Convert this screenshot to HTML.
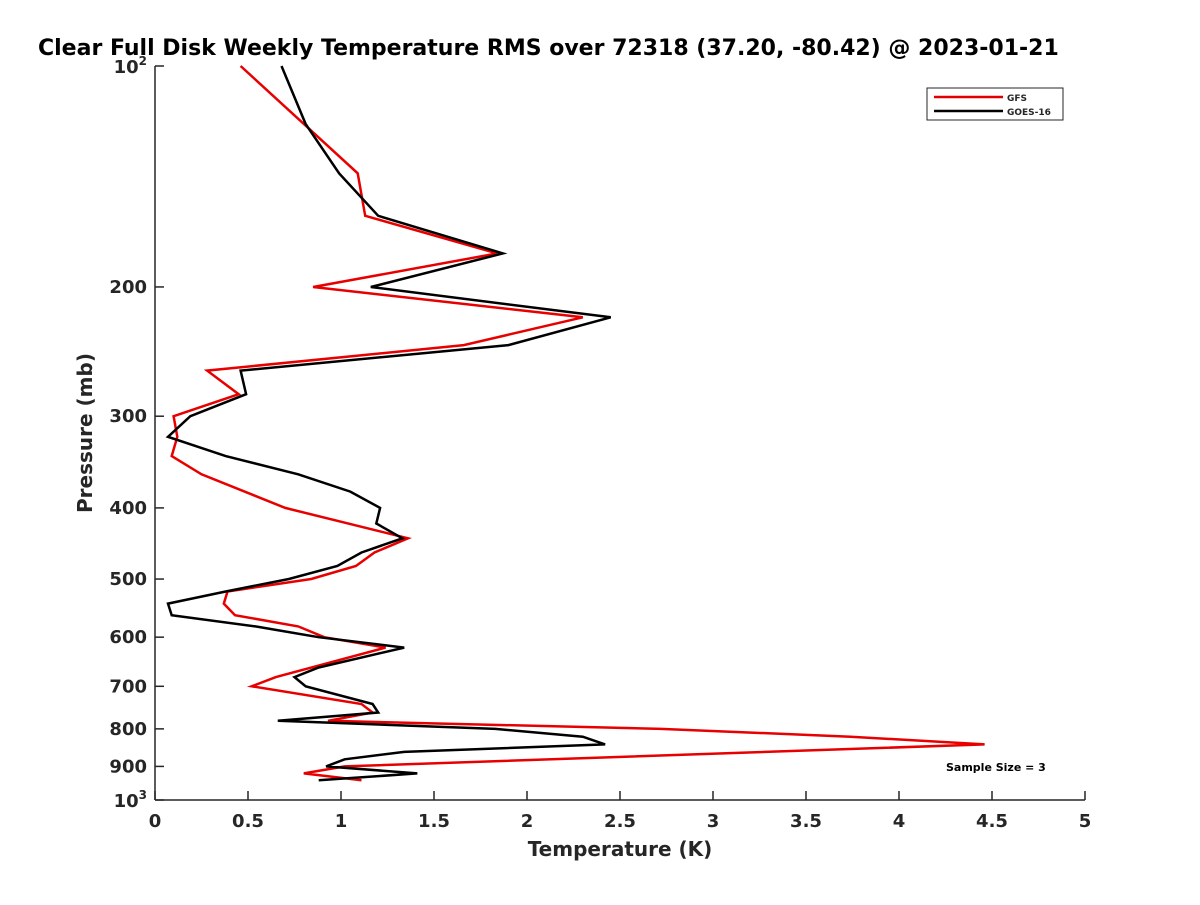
<!DOCTYPE html>
<html><head><meta charset="utf-8"><style>
body{margin:0;background:#fff}
svg text{font-family:"DejaVu Sans","Liberation Sans",sans-serif;font-weight:bold;fill:#262626}
</style></head><body>
<svg id="c" width="1200" height="900">
<text x="38" y="55" font-size="22" style="fill:#000">Clear Full Disk Weekly Temperature RMS over 72318 (37.20, -80.42) @ 2023-01-21</text>
<g id="axes"></g>
<g id="series"></g>
<g>
<rect x="927" y="88" width="136" height="32" fill="#fff" stroke="#262626" stroke-width="1"/>
<line x1="934" y1="97" x2="1003" y2="97" stroke="#e00000" stroke-width="2.5"/>
<text x="1007" y="101" font-size="9">GFS</text>
<line x1="934" y1="111" x2="1003" y2="111" stroke="#000" stroke-width="2.5"/>
<text x="1007" y="115" font-size="9">GOES-16</text>
</g>
<text x="946" y="771" font-size="11" style="fill:#000">Sample Size = 3</text>
<text x="620" y="856" font-size="20" text-anchor="middle">Temperature (K)</text>
<text transform="translate(92,433) rotate(-90)" font-size="20" text-anchor="middle">Pressure (mb)</text>
</svg>
<script>
const gfsP=[100,140,160,180,200,220,240,260,280,300,320,340,360,400,440,460,480,500,520,540,560,580,600,620,680,700,740,760,780,800,820,840,900,920,940];
const gfsT=[0.46,1.09,1.13,1.84,0.85,2.30,1.66,0.28,0.45,0.10,0.12,0.09,0.25,0.70,1.36,1.18,1.08,0.84,0.39,0.37,0.43,0.77,0.91,1.24,0.65,0.52,1.11,1.17,0.93,2.72,3.74,4.46,1.02,0.80,1.11];
const goesP=[100,120,140,160,180,200,220,240,260,280,300,320,340,360,380,400,420,440,460,480,500,520,540,560,580,600,620,660,680,700,740,760,780,800,820,840,860,880,900,920,940];
const goesT=[0.68,0.81,0.99,1.20,1.87,1.16,2.45,1.90,0.46,0.49,0.19,0.07,0.38,0.77,1.05,1.21,1.19,1.33,1.11,0.98,0.72,0.38,0.07,0.09,0.54,0.88,1.34,0.88,0.75,0.81,1.17,1.20,0.66,1.83,2.30,2.42,1.34,1.02,0.92,1.41,0.88];
const xTicks=[0,0.5,1,1.5,2,2.5,3,3.5,4,4.5,5];
const xTickLabels=["0","0.5","1","1.5","2","2.5","3","3.5","4","4.5","5"];
const yTicks=[100,200,300,400,500,600,700,800,900,1000];
const yTickLabels=["","200","300","400","500","600","700","800","900",""];
const X0=155,X1=1085,Y0=66,Y1=800;
const xs=v=>X0+(v/5)*(X1-X0);
const ys=p=>Y0+Math.log10(p/100)*(Y1-Y0);
const NS="http://www.w3.org/2000/svg";
const ax=document.getElementById('axes'),se=document.getElementById('series');
function mk(tag,at,parent){const e=document.createElementNS(NS,tag);for(const k in at)e.setAttribute(k,at[k]);parent.appendChild(e);return e;}
let l=mk('line',{x1:X0,y1:Y0,x2:X0,y2:Y1,stroke:'#262626','stroke-width':1.5},ax);


l=mk('line',{x1:X0,y1:Y1,x2:X1,y2:Y1,stroke:'#262626','stroke-width':1.5},ax);


xTicks.forEach((v,i)=>{
 const t=mk('line',{x1:xs(v),y1:Y1,x2:xs(v),y2:Y1-9,stroke:'#262626','stroke-width':1.5},ax);
 
 
 const tx=mk('text',{x:xs(v),y:Y1+27,'font-size':18,'text-anchor':'middle'},ax);
 tx.textContent=xTickLabels[i];
 
 
});
yTicks.forEach((p,i)=>{
 const t=mk('line',{x1:X0,y1:ys(p),x2:X0+9,y2:ys(p),stroke:'#262626','stroke-width':1.5},ax);
 
 
 if(yTickLabels[i]){
  const tx=mk('text',{x:X0-8,y:ys(p)+6,'font-size':18,'text-anchor':'end'},ax);
  tx.textContent=yTickLabels[i];
  
  
 }
});
[[100,'2'],[1000,'3']].forEach(([p,e])=>{
 const tx=mk('text',{x:X0-8,y:ys(p)+7,'font-size':18,'text-anchor':'end'},ax);
 tx.innerHTML='10<tspan font-size="12" dy="-8">'+e+'</tspan>';
 
 
});
function line(P,T,color,name){
 const pts=P.map((p,i)=>xs(T[i]).toFixed(1)+','+ys(p).toFixed(1)).join(' ');
 const pl=mk('polyline',{points:pts,fill:'none',stroke:color,'stroke-width':2.5,'stroke-linejoin':'miter'},se);
 
 
}
line(gfsP,gfsT,'#e80000','gfs-line');
line(goesP,goesT,'#000000','goes16-line');
</script>
</body></html>
